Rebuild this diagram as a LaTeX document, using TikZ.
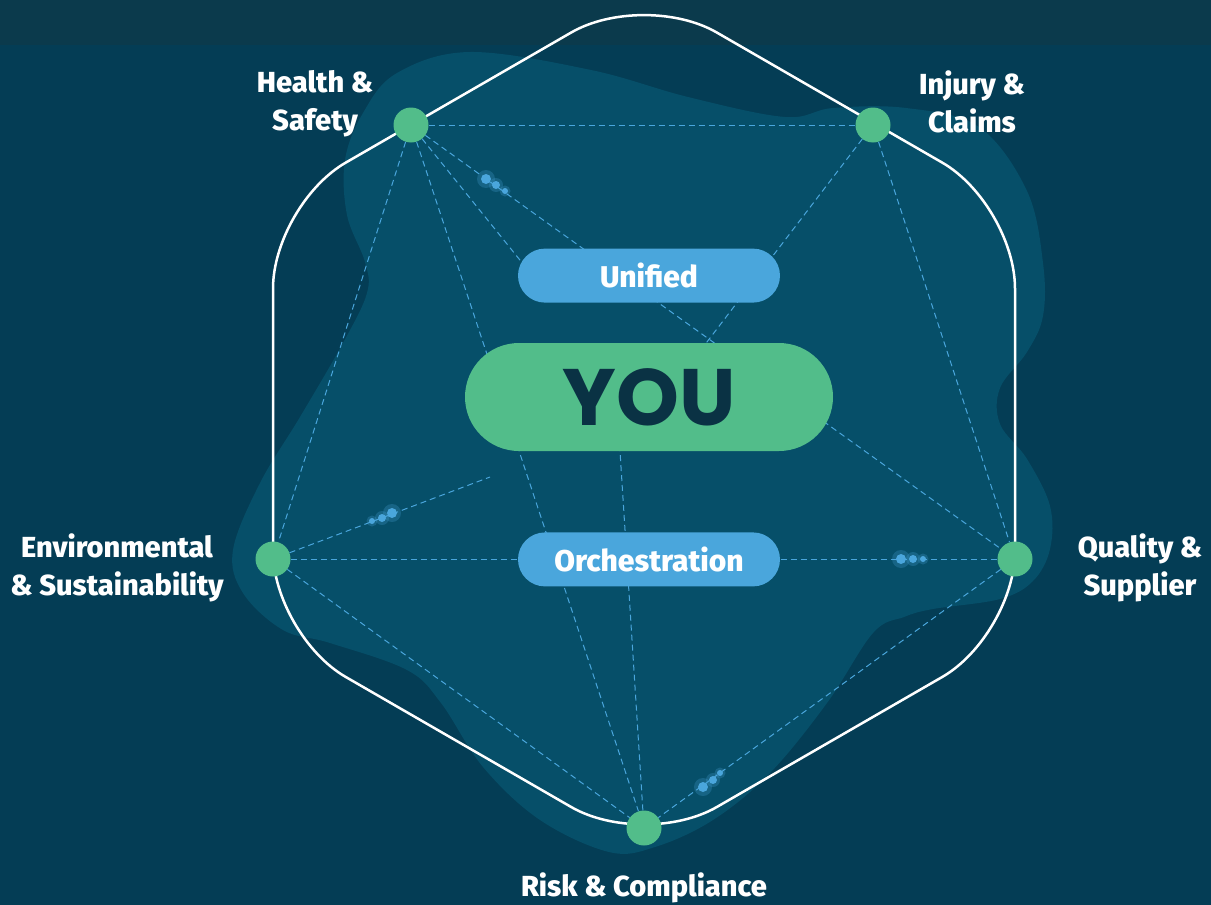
\documentclass[tikz,border=0pt]{standalone}
\usepackage{fontspec}
\setmainfont{Fira Sans}[BoldFont={Fira Sans ExtraBold}]
\newfontfamily\youfont{Poppins}
\usetikzlibrary{positioning,backgrounds}
\definecolor{bgdark}{HTML}{043D55}
\definecolor{bandtop}{HTML}{0B3A4C}
\definecolor{blobteal}{HTML}{064F69}
\definecolor{leaf}{HTML}{52BD8A}
\definecolor{sky}{HTML}{4AA6DC}
\definecolor{ink}{HTML}{0A3244}

\begin{document}
\begin{tikzpicture}[x=1pt,y=-1pt,
  hub/.style={circle,fill=leaf,minimum size=35pt,inner sep=0pt},
  pill/.style={fill=sky,text=white,rounded corners=27pt,minimum width=262pt,minimum height=54pt,font=\fontsize{30}{36}\selectfont\bfseries},
  lbl/.style={text=white,align=center,font=\fontsize{29}{38}\selectfont\bfseries},
  link/.style={draw=sky,line width=1pt,dash pattern=on 6pt off 4pt}]
\useasboundingbox (0,0) rectangle (1211,905);
% corner points
\node[hub] (hs) at (411,125) {};
\node[hub] (ic) at (873,125) {};
\node[hub] (es) at (273,559) {};
\node[hub] (qs) at (1015,559) {};
\node[hub] (rc) at (644,828) {};
% centre pills
\node[fill=leaf,text=ink,rounded corners=54pt,minimum width=368pt,minimum height=108pt,font=\youfont\fontsize{80}{82}\selectfont\bfseries] (you) at (649,397) {YOU};
\node[pill,above=40pt of you] (uni) {Unified};
\node[pill,below=81pt of you] (orch) {Orchestration};
% labels
\node[lbl] at (315,104) {Health \&\\Safety};
\node[lbl] at (972,102) {Injury \&\\Claims};
\node[lbl] at (117,568) {Environmental\\\& Sustainability};
\node[lbl] at (1140,568) {Quality \&\\Supplier};
\node[lbl] at (644,888) {Risk \& Compliance};
% free ends hidden behind the pills
\coordinate (uniL) at (532,275);
\coordinate (youT) at (697,355);
\coordinate (youB) at (618,420);
\coordinate (esE) at (490,477);
\begin{scope}[on background layer]
\fill[bgdark] (0,0) rectangle (1211,905);
\fill[bandtop] (0,0) rectangle (1211,45);
\fill[blobteal] plot[smooth cycle,tension=0.6] coordinates {(470,52) (591,70) (688,97) (785,117) (833,108) (906,108) (979,127) (1027,191) (1043,263) (1043,316) (1027,352) (1000,388) (1000,424) (1027,459) (1050,506) (1050,549) (1033,581) (1000,599) (933,609) (904,617) (873,633) (827,703) (770,773) (713,820) (655,847) (609,852) (540,820) (483,767) (441,703) (407,670) (330,643) (283,630) (243,593) (233,550) (260,483) (300,417) (343,343) (367,293) (365,262) (347,215) (345,160) (363,113) (397,73)};
\draw[white,line width=2.5pt,rounded corners=84pt] (273,420) -- (273,204.6) -- (644,-9.5) -- (1015,204.6) -- (1015,635) -- (644,849) -- (273,635) -- cycle;
\draw[link] (hs)--(ic); \draw[link] (hs)--(es); \draw[link] (hs)--(rc); \draw[link] (hs)--(qs); \draw[link] (hs)--(uniL);
\draw[link] (ic)--(qs); \draw[link] (ic)--(youT);
\draw[link] (es)--(qs); \draw[link] (es)--(rc); \draw[link] (es)--(esE);
\draw[link] (qs)--(rc); \draw[link] (rc)--(youB);
% data particles
\foreach \x/\y/\r/\h in {486/179/5/9,496/185/4/7,505/191/3/5.5,392/513/5/9,382/518/4/7,372/521/3/5.5,901/559/5/9,913/559/4/7,923/559/3/5.5,703/787/5/9,713/780/4/7,720/773/3/5.5}{
  \fill[sky,opacity=0.25] (\x,\y) circle (\h pt);
  \fill[sky] (\x,\y) circle (\r pt);
}
\end{scope}
\end{tikzpicture}
\end{document}
